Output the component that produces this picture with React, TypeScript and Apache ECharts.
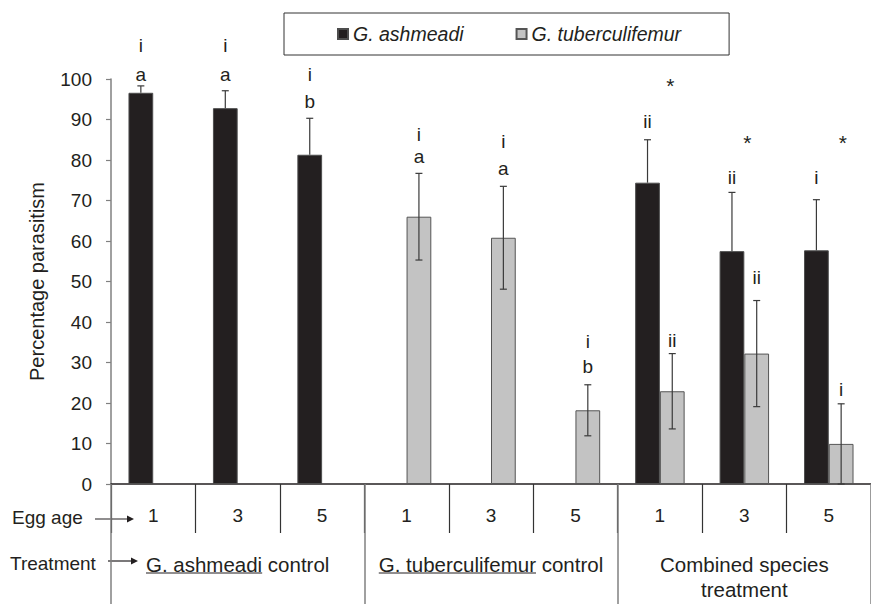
import React, { useEffect, useRef } from 'react';
import * as echarts from 'echarts';

const FONT = '"Liberation Sans", Arial, Helvetica, sans-serif';
const TEXT = '#231f20';

// Egg age (x axis, inner level)
const eggAges = ['1', '3', '5', '1', '3', '5', '1', '3', '5'];
// Treatment groups (x axis, outer level)
const treatments = ['G. ashmeadi control', 'G. tuberculifemur control', 'Combined species\ntreatment'];
const underlinedParts = ['G. ashmeadi', 'G. tuberculifemur', ''];

// Mean percentage parasitism and error (one side)
const ashmeadiMean = [96.6, 92.8, 81.3, null, null, null, 74.4, 57.5, 57.7];
const ashmeadiErr = [1.7, 4.3, 9.0, null, null, null, 10.6, 14.5, 12.5];
const tuberMean = [null, null, null, 66.0, 60.8, 18.2, 22.9, 32.2, 9.9];
const tuberErr = [null, null, null, 10.7, 12.7, 6.3, 9.3, 13.1, 9.9];

// Significance letters: [category index, y position (value units), text]
const ashmeadiLetters: [number, number, string][] = [
  [0, 108.3, 'i'], [0, 101.2, 'a'],
  [1, 108.3, 'i'], [1, 101.2, 'a'],
  [2, 101.2, 'i'], [2, 94.5, 'b'],
  [6, 89.6, 'ii'], [7, 75.8, 'ii'], [8, 75.8, 'i'],
];
const tuberLetters: [number, number, string][] = [
  [3, 86.4, 'i'], [3, 80.9, 'a'],
  [4, 84.5, 'i'], [4, 77.9, 'a'],
  [5, 35.3, 'i'], [5, 28.9, 'b'],
  [6, 35.4, 'ii'], [7, 51.1, 'ii'], [8, 23.4, 'i'],
];
// Asterisks: [category index, y position, x shift in band units]
const stars: [number, number, number][] = [
  [6, 98.4, 0.123], [7, 84.4, 0.035], [8, 84.4, 0.168],
];

const BAR_FRAC = 0.293;

export default function App() {
  const ref = useRef<HTMLDivElement>(null);
  useEffect(() => {
    const chart = echarts.init(ref.current!, null, { renderer: 'svg' });

    const errSeries = (mean: (number | null)[], err: (number | null)[], side: number, both: boolean, name: string) => ({
      type: 'custom',
      name,
      z: 4,
      clip: false,
      silent: true,
      xAxisIndex: 0,
      yAxisIndex: 0,
      data: mean
        .map((m, i) => (m == null ? null : [i, m, err[i] as number]))
        .filter((d) => d != null),
      renderItem: (params: any, api: any) => {
        const i = api.value(0);
        const m = api.value(1);
        const e = api.value(2);
        const band = api.size([1, 0])[0];
        const x = api.coord([i, m])[0] + side * band * BAR_FRAC / 2;
        const yMid = api.coord([i, m])[1];
        const yTop = api.coord([i, m + e])[1];
        const yBot = api.coord([i, Math.max(0, m - e)])[1];
        const ls = { stroke: '#3a3a3a', lineWidth: 1.2 };
        const children: any[] = [
          { type: 'line', shape: { x1: x, y1: both ? yBot : yMid, x2: x, y2: yTop }, style: ls },
          { type: 'line', shape: { x1: x - 3.5, y1: yTop, x2: x + 3.5, y2: yTop }, style: ls },
        ];
        if (both) children.push({ type: 'line', shape: { x1: x - 3.5, y1: yBot, x2: x + 3.5, y2: yBot }, style: ls });
        return { type: 'group', children };
      },
    });

    const labelSeries = (items: [number, number, any][], shiftFn: (d: any) => number, texts: string[], name: string, size: number) => ({
      type: 'custom',
      name,
      z: 5,
      clip: false,
      silent: true,
      data: items.map((d) => [d[0], d[1]]),
      renderItem: (params: any, api: any) => {
        const i = api.value(0);
        const v = api.value(1);
        const band = api.size([1, 0])[0];
        const c = api.coord([i, v]);
        return {
          type: 'text',
          x: c[0] + shiftFn(items[params.dataIndex]) * band,
          y: c[1],
          style: {
            text: texts[params.dataIndex],
            fontSize: size,
            fontFamily: FONT,
            fill: TEXT,
            align: 'center',
            verticalAlign: 'middle',
          },
        };
      },
    });

    const option: any = {
      animation: false,
      backgroundColor: '#ffffff',
      textStyle: { fontFamily: FONT },
      grid: { left: 111, top: 79, bottom: 120, width: 769, containLabel: false },
      legend: {
        data: ['G. ashmeadi', 'G. tuberculifemur'],
        left: 284,
        top: 13,
        icon: 'rect',
        itemWidth: 10,
        itemHeight: 10,
        itemGap: 52,
        padding: [11, 48, 11, 53],
        borderColor: '#333333',
        borderWidth: 1,
        textStyle: { fontStyle: 'italic', fontSize: 19.5, fontFamily: FONT, color: TEXT },
      },
      xAxis: [
        {
          type: 'category',
          data: eggAges,
          position: 'bottom',
          axisLine: { show: true, lineStyle: { color: TEXT, width: 1.5 } },
          axisTick: { show: true, length: 49, interval: 0, lineStyle: { color: '#333333', width: 1.2 } },
          axisLabel: { interval: 0, margin: 22, fontSize: 19, lineHeight: 19, color: TEXT, fontFamily: FONT },
          splitLine: { show: false },
        },
        {
          type: 'category',
          data: treatments,
          position: 'bottom',
          offset: 0,
          axisLine: { show: false },
          axisTick: { show: true, length: 120, interval: 0, lineStyle: { color: '#808080', width: 1.5 } },
          axisLabel: { interval: 0, margin: 68, fontSize: 20.5, lineHeight: 25, color: TEXT, fontFamily: FONT },
          splitLine: { show: false },
        },
      ],
      yAxis: {
        type: 'value',
        min: 0,
        max: 100,
        interval: 10,
        name: 'Percentage parasitism',
        nameLocation: 'middle',
        nameRotate: 90,
        nameGap: 64,
        nameTextStyle: { fontSize: 20, color: TEXT, fontFamily: FONT },
        axisLine: { show: true, lineStyle: { color: '#808080', width: 1.5 } },
        axisTick: { show: true, inside: false, length: 5, lineStyle: { color: '#808080', width: 1.2 } },
        axisLabel: { margin: 19, fontSize: 19, color: TEXT, fontFamily: FONT },
        splitLine: { show: false },
      },
      series: [
        {
          name: 'G. ashmeadi',
          type: 'bar',
          data: ashmeadiMean,
          barWidth: '29.3%',
          barGap: '0%',
          itemStyle: { color: '#231f20', borderColor: '#4d4d4d', borderWidth: 1 },
        },
        {
          name: 'G. tuberculifemur',
          type: 'bar',
          data: tuberMean,
          barWidth: '29.3%',
          barGap: '0%',
          itemStyle: { color: '#c3c3c3', borderColor: '#555555', borderWidth: 1 },
        },
        errSeries(ashmeadiMean, ashmeadiErr, -1, false, 'errA'),
        errSeries(tuberMean, tuberErr, 1, true, 'errT'),
        labelSeries(ashmeadiLetters, () => -BAR_FRAC / 2, ashmeadiLetters.map((d) => d[2]), 'labA', 19),
        labelSeries(tuberLetters, () => BAR_FRAC / 2, tuberLetters.map((d) => d[2]), 'labT', 19),
        labelSeries(stars, (d) => d[2], stars.map(() => '*'), 'stars', 21),
      ],
    };
    chart.setOption(option);

    // annotations: row titles with arrows, and underlines of species names
    const canvas = document.createElement('canvas');
    const ctx = canvas.getContext('2d')!;
    ctx.font = `20.5px ${FONT}`;
    const graphics: any[] = [
      { type: 'text', x: 12, y: 517, style: { text: 'Egg age', fontSize: 19, fontFamily: FONT, fill: TEXT, verticalAlign: 'middle' } },
      { type: 'line', shape: { x1: 95, y1: 519, x2: 128, y2: 519 }, style: { stroke: TEXT, lineWidth: 1.2 } },
      { type: 'polygon', shape: { points: [[127, 515.5], [134, 519], [127, 522.5]] }, style: { fill: TEXT } },
      { type: 'text', x: 10, y: 563, style: { text: 'Treatment', fontSize: 19, fontFamily: FONT, fill: TEXT, verticalAlign: 'middle' } },
      { type: 'line', shape: { x1: 108, y1: 561, x2: 132, y2: 561 }, style: { stroke: TEXT, lineWidth: 1.2 } },
      { type: 'polygon', shape: { points: [[131, 557.5], [138, 561], [131, 564.5]] }, style: { fill: TEXT } },
    ];
    treatments.forEach((t, i) => {
      const part = underlinedParts[i];
      if (!part) return;
      const cx = chart.convertToPixel({ xAxisIndex: 1 }, t) as unknown as number;
      const W = ctx.measureText(t).width;
      const w = ctx.measureText(part).width;
      const x0 = cx - W / 2;
      graphics.push({ type: 'line', shape: { x1: x0, y1: 573, x2: x0 + w, y2: 573 }, style: { stroke: TEXT, lineWidth: 1.2 } });
    });
    chart.setOption({ graphic: graphics });

    return () => chart.dispose();
  }, []);
  return <div ref={ref} style={{ position: 'fixed', left: 0, top: 0, width: 871, height: 604, background: '#fff' }} />;
}
